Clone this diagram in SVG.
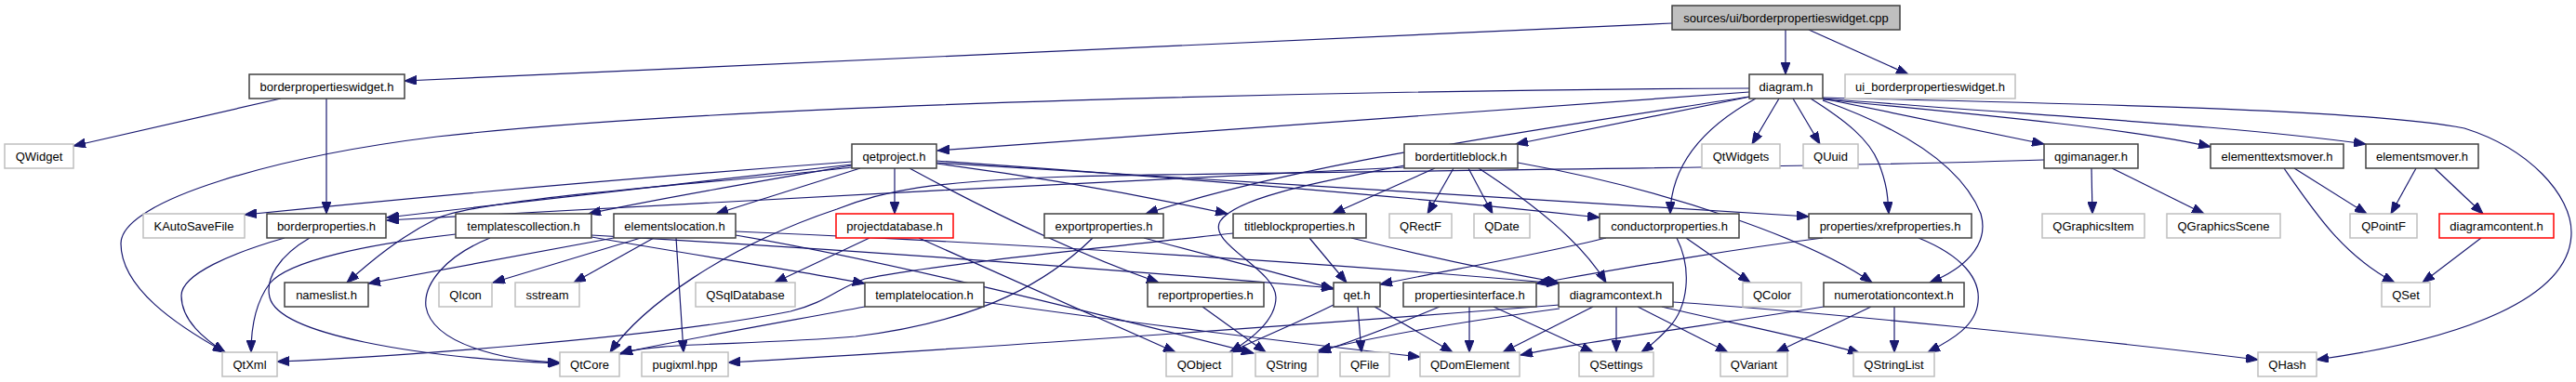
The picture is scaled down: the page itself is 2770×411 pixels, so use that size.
<svg xmlns="http://www.w3.org/2000/svg" width="2770" height="411" viewBox="0 0 2770 411">
<style>
rect{fill:#fff;stroke:#404040;stroke-width:1.5}
.g rect{stroke:#bfbfbf}
.r rect{stroke:#ff0000}
.s rect{fill:#bfbfbf}
text{font-family:"Liberation Sans",Arial,sans-serif;font-size:13px;text-anchor:middle;fill:#000}
#edges path{fill:none;stroke:#191970;stroke-width:1.2;marker-end:url(#a)}
</style>
<defs>
<marker id="a" markerWidth="14" markerHeight="10" refX="13" refY="5" orient="auto" markerUnits="userSpaceOnUse">
<path d="M0,0 L13,5 L0,10 z" fill="#191970" stroke="#191970" stroke-width="1"/>
</marker>
</defs>
<rect x="0" y="0" width="2770" height="411" style="fill:#fff;stroke:none"/>
<g id="edges">
<path d="M1798,25 L435,87"/>
<path d="M1920,32 L1920,80"/>
<path d="M1945,32 L2052,80"/>
<path d="M302,106 L79,157"/>
<path d="M351,106 L351,230"/>
<path d="M1881,95 C1500,97 800,110 470,147 C300,168 130,215 130,262 C130,310 190,350 242,379"/>
<path d="M1881,99 L1008,162"/>
<path d="M1882,104 L1630,155"/>
<path d="M1888,106 C1835,135 1797,175 1796,230"/>
<path d="M1881,104 C1650,140 1400,175 1232,230"/>
<path d="M1913,106 L1884,155"/>
<path d="M1928,106 L1957,155"/>
<path d="M1947,106 C1985,130 2010,150 2020,175 C2030,200 2030,215 2031,230"/>
<path d="M1960,108 C2050,140 2110,180 2130,230 C2140,265 2110,290 2075,304"/>
<path d="M1960,106 L2198,155"/>
<path d="M1960,107 C2150,125 2300,140 2377,158"/>
<path d="M1960,106 C2200,125 2400,135 2544,155"/>
<path d="M1960,105 C2250,112 2550,118 2650,138 C2720,160 2765,210 2765,250 C2765,320 2650,365 2491,387"/>
<path d="M1510,180 C1200,195 700,220 416,237"/>
<path d="M1543,181 L1433,230"/>
<path d="M1563,181 L1535,230"/>
<path d="M1579,181 L1605,230"/>
<path d="M1590,181 C1650,220 1700,260 1727,304"/>
<path d="M1510,178 C1440,192 1330,210 1312,238 C1298,262 1372,290 1372,320 C1372,345 1345,365 1323,379"/>
<path d="M1632,175 C1800,205 1950,260 2013,304"/>
<path d="M916,174 C700,190 450,212 263,231"/>
<path d="M916,177 C750,195 550,220 416,234"/>
<path d="M916,180 C800,195 520,212 470,235 C430,255 400,280 373,304"/>
<path d="M916,178 C800,198 700,215 633,230"/>
<path d="M925,181 L770,230"/>
<path d="M962,181 L962,230"/>
<path d="M978,181 C1050,220 1150,270 1246,304"/>
<path d="M1007,176 C1150,195 1250,215 1320,230"/>
<path d="M1007,173 C1250,190 1500,210 1720,234"/>
<path d="M1007,175 C1300,195 1700,215 1945,233"/>
<path d="M2198,172 C1900,182 1400,184 1150,190 C1000,195 950,205 900,225 C780,265 690,330 656,379"/>
<path d="M2249,181 L2250,230"/>
<path d="M2271,181 L2370,230"/>
<path d="M2467,181 L2545,230"/>
<path d="M2456,181 C2490,230 2520,275 2575,304"/>
<path d="M2598,181 L2571,230"/>
<path d="M2618,181 L2670,230"/>
<path d="M2668,256 L2605,304"/>
<path d="M306,256 C250,272 195,295 195,318 C195,345 220,365 242,379"/>
<path d="M333,256 C300,275 285,300 290,320 C300,360 450,385 602,391"/>
<path d="M490,252 C400,262 310,280 290,305 C275,325 270,350 270,379"/>
<path d="M527,256 C480,275 455,305 458,330 C465,370 540,388 602,390"/>
<path d="M636,255 C750,275 850,290 930,305"/>
<path d="M636,253 C900,268 1200,290 1434,310"/>
<path d="M660,256 L396,305"/>
<path d="M689,256 L530,304"/>
<path d="M703,256 L617,304"/>
<path d="M727,256 L735,379"/>
<path d="M791,249 C1100,262 1450,285 1676,305"/>
<path d="M791,253 C950,280 1150,330 1348,380"/>
<path d="M935,256 L833,304"/>
<path d="M988,256 L1264,379"/>
<path d="M1175,256 C1130,300 1060,345 920,362 C800,372 700,368 667,381"/>
<path d="M1230,256 C1300,275 1380,295 1434,311"/>
<path d="M1408,256 L1448,304"/>
<path d="M1453,256 C1530,275 1610,292 1676,304"/>
<path d="M1326,251 C1200,265 1000,285 930,300 C900,310 890,325 850,335 C700,365 400,385 298,389"/>
<path d="M1727,256 C1650,275 1550,292 1484,306"/>
<path d="M1813,256 L1882,304"/>
<path d="M1803,256 C1820,290 1815,330 1795,352 C1785,363 1775,372 1765,379"/>
<path d="M1960,256 C1850,270 1750,288 1652,305"/>
<path d="M2063,256 C2110,275 2130,300 2127,325 C2125,350 2100,365 2073,379"/>
<path d="M1293,330 L1361,379"/>
<path d="M1434,328 C1400,345 1360,362 1322,379"/>
<path d="M1460,330 L1464,379"/>
<path d="M1478,330 L1562,379"/>
<path d="M1548,330 C1500,350 1460,365 1418,379"/>
<path d="M1580,330 L1580,379"/>
<path d="M1606,330 L1713,379"/>
<path d="M1677,332 C1580,345 1480,362 1418,377"/>
<path d="M1677,328 C1400,350 1000,378 783,390"/>
<path d="M1713,330 L1616,379"/>
<path d="M1738,330 L1738,379"/>
<path d="M1761,330 L1858,379"/>
<path d="M1787,330 C1850,345 1950,365 2000,380"/>
<path d="M1799,325 C1950,335 2250,365 2428,387"/>
<path d="M1961,330 C1850,348 1700,368 1635,382"/>
<path d="M2012,330 L1910,379"/>
<path d="M2037,330 L2037,379"/>
<path d="M1058,325 C1200,345 1400,370 1527,384"/>
<path d="M930,330 C850,345 720,368 667,380"/>
</g>
<g id="n_src" class="s"><rect x="1798" y="6" width="245" height="26"/><text x="1920.5" y="23.6">sources/ui/borderpropertieswidget.cpp</text></g>
<g id="n_bpw"><rect x="268" y="80" width="167" height="26"/><text x="351.5" y="97.6">borderpropertieswidget.h</text></g>
<g id="n_diagram"><rect x="1881" y="80" width="79" height="26"/><text x="1920.5" y="97.6">diagram.h</text></g>
<g id="n_ui" class="g"><rect x="1984" y="80" width="183" height="26"/><text x="2075.5" y="97.6">ui_borderpropertieswidget.h</text></g>
<g id="n_qwidget" class="g"><rect x="5" y="155" width="74" height="26"/><text x="42" y="172.6">QWidget</text></g>
<g id="n_qetproject"><rect x="916" y="155" width="91" height="26"/><text x="961.5" y="172.6">qetproject.h</text></g>
<g id="n_btb"><rect x="1510" y="155" width="122" height="26"/><text x="1571" y="172.6">bordertitleblock.h</text></g>
<g id="n_qtwidgets" class="g"><rect x="1830" y="155" width="84" height="26"/><text x="1872" y="172.6">QtWidgets</text></g>
<g id="n_quuid" class="g"><rect x="1939" y="155" width="59" height="26"/><text x="1968.5" y="172.6">QUuid</text></g>
<g id="n_qgi"><rect x="2198" y="155" width="101" height="26"/><text x="2248.5" y="172.6">qgimanager.h</text></g>
<g id="n_etm"><rect x="2377" y="155" width="143" height="26"/><text x="2448.5" y="172.6">elementtextsmover.h</text></g>
<g id="n_em"><rect x="2544" y="155" width="121" height="26"/><text x="2604.5" y="172.6">elementsmover.h</text></g>
<g id="n_kauto" class="g"><rect x="154" y="230" width="109" height="26"/><text x="208.5" y="247.6">KAutoSaveFile</text></g>
<g id="n_bp"><rect x="287" y="230" width="128" height="26"/><text x="351" y="247.6">borderproperties.h</text></g>
<g id="n_tc"><rect x="490" y="230" width="146" height="26"/><text x="563" y="247.6">templatescollection.h</text></g>
<g id="n_el"><rect x="660" y="230" width="131" height="26"/><text x="725.5" y="247.6">elementslocation.h</text></g>
<g id="n_pdb" class="r"><rect x="899" y="230" width="126" height="26"/><text x="962" y="247.6">projectdatabase.h</text></g>
<g id="n_exp"><rect x="1123" y="230" width="128" height="26"/><text x="1187" y="247.6">exportproperties.h</text></g>
<g id="n_tbp"><rect x="1326" y="230" width="143" height="26"/><text x="1397.5" y="247.6">titleblockproperties.h</text></g>
<g id="n_qrectf" class="g"><rect x="1494" y="230" width="67" height="26"/><text x="1527.5" y="247.6">QRectF</text></g>
<g id="n_qdate" class="g"><rect x="1585" y="230" width="60" height="26"/><text x="1615" y="247.6">QDate</text></g>
<g id="n_cp"><rect x="1720" y="230" width="150" height="26"/><text x="1795" y="247.6">conductorproperties.h</text></g>
<g id="n_xref"><rect x="1945" y="230" width="175" height="26"/><text x="2032.5" y="247.6">properties/xrefproperties.h</text></g>
<g id="n_qgitem" class="g"><rect x="2196" y="230" width="110" height="26"/><text x="2251" y="247.6">QGraphicsItem</text></g>
<g id="n_qgscene" class="g"><rect x="2330" y="230" width="122" height="26"/><text x="2391" y="247.6">QGraphicsScene</text></g>
<g id="n_qpointf" class="g"><rect x="2527" y="230" width="72" height="26"/><text x="2563" y="247.6">QPointF</text></g>
<g id="n_dcontent" class="r"><rect x="2623" y="230" width="123" height="26"/><text x="2684.5" y="247.6">diagramcontent.h</text></g>
<g id="n_nl"><rect x="306" y="304" width="90" height="26"/><text x="351" y="321.6">nameslist.h</text></g>
<g id="n_qicon" class="g"><rect x="472" y="304" width="57" height="26"/><text x="500.5" y="321.6">QIcon</text></g>
<g id="n_sstream" class="g"><rect x="554" y="304" width="69" height="26"/><text x="588.5" y="321.6">sstream</text></g>
<g id="n_qsql" class="g"><rect x="748" y="304" width="107" height="26"/><text x="801.5" y="321.6">QSqlDatabase</text></g>
<g id="n_tl"><rect x="930" y="304" width="128" height="26"/><text x="994" y="321.6">templatelocation.h</text></g>
<g id="n_rp"><rect x="1234" y="304" width="125" height="26"/><text x="1296.5" y="321.6">reportproperties.h</text></g>
<g id="n_qet"><rect x="1434" y="304" width="50" height="26"/><text x="1459" y="321.6">qet.h</text></g>
<g id="n_pi"><rect x="1509" y="304" width="143" height="26"/><text x="1580.5" y="321.6">propertiesinterface.h</text></g>
<g id="n_dcx"><rect x="1676" y="304" width="123" height="26"/><text x="1737.5" y="321.6">diagramcontext.h</text></g>
<g id="n_qcolor" class="g"><rect x="1874" y="304" width="63" height="26"/><text x="1905.5" y="321.6">QColor</text></g>
<g id="n_nc"><rect x="1961" y="304" width="151" height="26"/><text x="2036.5" y="321.6">numerotationcontext.h</text></g>
<g id="n_qset" class="g"><rect x="2561" y="304" width="52" height="26"/><text x="2587" y="321.6">QSet</text></g>
<g id="n_qtxml" class="g"><rect x="239" y="379" width="59" height="26"/><text x="268.5" y="396.6">QtXml</text></g>
<g id="n_qtcore" class="g"><rect x="602" y="379" width="64" height="26"/><text x="634" y="396.6">QtCore</text></g>
<g id="n_pugi" class="g"><rect x="690" y="379" width="93" height="26"/><text x="736.5" y="396.6">pugixml.hpp</text></g>
<g id="n_qobject" class="g"><rect x="1254" y="379" width="71" height="26"/><text x="1289.5" y="396.6">QObject</text></g>
<g id="n_qstring" class="g"><rect x="1350" y="379" width="67" height="26"/><text x="1383.5" y="396.6">QString</text></g>
<g id="n_qfile" class="g"><rect x="1441" y="379" width="53" height="26"/><text x="1467.5" y="396.6">QFile</text></g>
<g id="n_qdom" class="g"><rect x="1527" y="379" width="107" height="26"/><text x="1580.5" y="396.6">QDomElement</text></g>
<g id="n_qsettings" class="g"><rect x="1698" y="379" width="80" height="26"/><text x="1738" y="396.6">QSettings</text></g>
<g id="n_qvariant" class="g"><rect x="1850" y="379" width="72" height="26"/><text x="1886" y="396.6">QVariant</text></g>
<g id="n_qstringlist" class="g"><rect x="1993" y="379" width="87" height="26"/><text x="2036.5" y="396.6">QStringList</text></g>
<g id="n_qhash" class="g"><rect x="2428" y="379" width="63" height="26"/><text x="2459.5" y="396.6">QHash</text></g>
</svg>
